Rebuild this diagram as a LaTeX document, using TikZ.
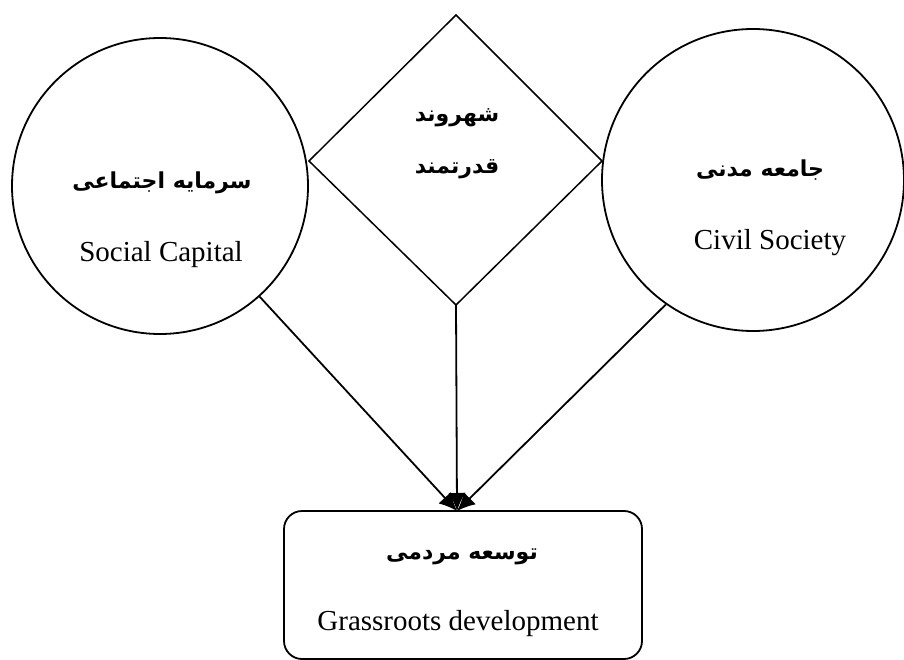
\documentclass[tikz,border=0pt]{standalone}
\usepackage{fontspec}
\setmainfont{Liberation Serif}
\newfontfamily\farsi[Script=Arabic]{DejaVu Sans}
\TeXXeTstate=1
\usetikzlibrary{arrows.meta}

\newcommand{\fa}[1]{{\farsi\bfseries\fontsize{22}{26}\selectfont\beginR #1\endR}}
\newcommand{\en}[1]{{\fontsize{29}{34}\selectfont #1}}

\begin{document}
\begin{tikzpicture}[x=1pt, y=-1pt, line width=1.8pt,
		arr/.style={-{Latex[length=18pt,width=17pt]}}]
		\useasboundingbox (0,0) rectangle (904,660);
		% circles
		\node[draw, circle, minimum size=296pt, inner sep=0] (SC) at (160,186) {};
		\node[draw, circle, minimum size=302pt, inner sep=0] (CS) at (753,180) {};
		% diamond
		\coordinate (DT) at (456,15);
		\coordinate (DR) at (602,161);
		\coordinate (DB) at (456,305);
		\coordinate (DL) at (309,161);
		\draw[line width=1.5pt] (DT) -- (DR) -- (DB) -- (DL) -- cycle;
		% bottom box
		\node[draw, rounded corners=18pt, minimum width=358pt, minimum height=148pt] (GD) at (463,585) {};
		\coordinate (tip) at (457,511);
		% texts
		\node (SCfa) at (162,183) {\fa{سرمایه اجتماعی}};
		\node (SCen) at (161,255) {\en{Social Capital}};
		\node (CSfa) at (760,170) {\fa{جامعه مدنی}};
		\node (CSen) at (770,243) {\en{Civil Society}};
		\node (DTa) at (457,118) {\fa{شهروند}};
		\node (DTb) at (457,169) {\fa{قدرتمند}};
		\node (GDfa) at (462,557) {\fa{توسعه مردمی}};
		\node (GDen) at (458,624) {\en{Grassroots development}};
		% arrows
		\draw[arr] (SC.-48) -- (tip);
		\draw[arr] (DB) -- (tip);
		\draw[arr] (CS.-125) -- (tip);
		\end{tikzpicture}
\end{document}
